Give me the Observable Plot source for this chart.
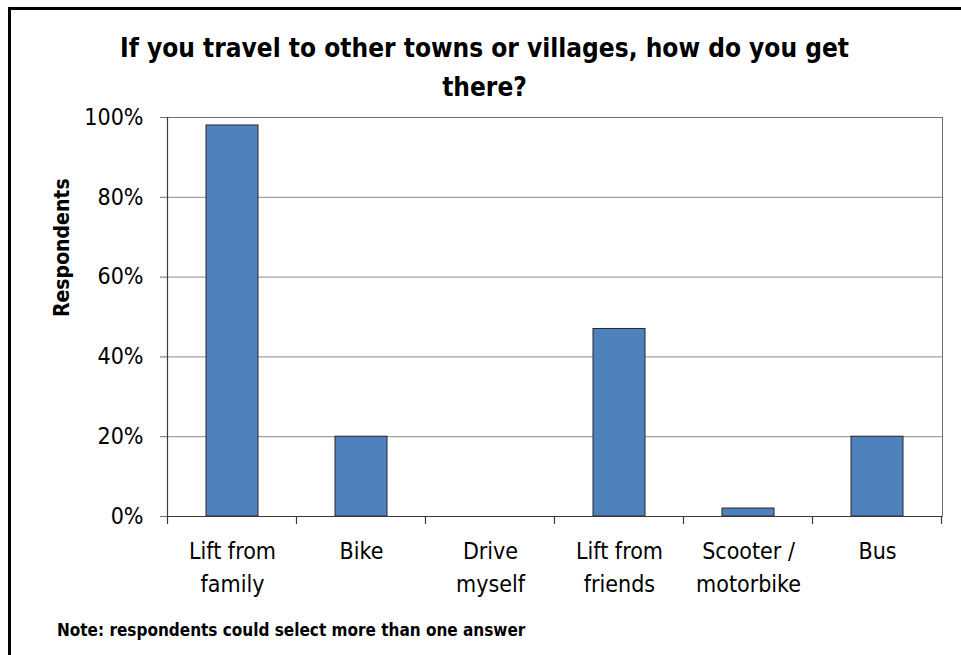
<!DOCTYPE html>
<html>
<head>
<meta charset="utf-8">
<script src="https://cdn.jsdelivr.net/npm/d3@7"></script>
<script src="https://cdn.jsdelivr.net/npm/@observablehq/plot@0.6"></script>
<style>
  html, body { margin: 0; padding: 0; background: #fff; }
  body { width: 961px; height: 655px; overflow: hidden; position: relative;
         font-family: "DejaVu Sans Condensed", "DejaVu Sans", sans-serif; font-stretch: condensed; color: #000; }
  #border { position: absolute; left: 8px; top: 7px; width: 960px; height: 700px;
            border-left: 3px solid #000; border-top: 3px solid #000; box-sizing: border-box; }
  #title { position: absolute; left: 8px; width: 953px; top: 29px; text-align: center;
           font-weight: bold; font-size: 26px; line-height: 39px; }
  #chart { position: absolute; left: 0; top: 100px; }
  #note { position: absolute; left: 57px; top: 620px; font-weight: bold; font-size: 17px; }
</style>
</head>
<body>
<div id="border"></div>
<div id="title">If you travel to other towns or villages, how do you get<br>there?</div>
<div id="chart"></div>
<div id="note">Note: respondents could select more than one answer</div>
<script>
const categories = ["Lift from\nfamily", "Bike", "Drive\nmyself", "Lift from\nfriends", "Scooter /\nmotorbike", "Bus"];
const values = [98, 20, 0, 47, 2, 20];
const yTicks = [0, 20, 40, 60, 80, 100];
const yLabel = "Respondents";

const data = categories.map((c, i) => ({category: c, value: values[i]}));

const W = 961, H = 515;
const font = '"DejaVu Sans Condensed", "DejaVu Sans", sans-serif';

const plot = Plot.plot({
  width: W, height: H,
  marginLeft: 167, marginRight: 19, marginTop: 17, marginBottom: 99,
  style: {fontFamily: font, fontSize: "23px", color: "#000", background: "transparent", fontStretch: "condensed"},
  x: {domain: categories, paddingInner: 0.6, paddingOuter: 0.3, label: null},
  y: {domain: [0, 100], label: null},
  marks: [
    Plot.gridY(yTicks.filter(d => d > 0 && d < 100), {stroke: "#8a8a8a", strokeOpacity: 1}),
    Plot.frame({stroke: "#6e6e6e"}),
    Plot.barY(data, {x: "category", y: "value", fill: "#4F81BD", stroke: "#262626", strokeWidth: 1}),
    Plot.ruleY([0], {stroke: "#3a3a3a", strokeWidth: 1.2}),
    Plot.axisY(yTicks, {tickSize: 7, tickPadding: 17, tickFormat: d => d + "%", stroke: "#6e6e6e", fontSize: 23}),
    Plot.axisX({tickSize: 0, tickPadding: 20, lineHeight: 1.4, fontSize: 23}),
    Plot.text([yLabel], {frameAnchor: "left", rotate: -90, dx: -105, fontWeight: "bold", fontSize: 21})
  ]
});

document.getElementById("chart").appendChild(plot);

// Category-boundary ticks and left axis line, positioned from the library's own scales
const xs = plot.scale("x");
const ys = plot.scale("y");
const y0 = ys.apply(0), y100 = ys.apply(100);
const bounds = categories.map(c => xs.apply(c) + xs.bandwidth / 2 - xs.step / 2);
bounds.push(xs.apply(categories[categories.length - 1]) + xs.bandwidth / 2 + xs.step / 2);
const svg = d3.select(plot);
svg.append("g").selectAll("line").data(bounds).join("line")
  .attr("x1", d => d).attr("x2", d => d)
  .attr("y1", y0).attr("y2", y0 + 8)
  .attr("stroke", "#3a3a3a").attr("stroke-width", 1.2);
svg.append("line")
  .attr("x1", bounds[0]).attr("x2", bounds[0])
  .attr("y1", y100).attr("y2", y0 + 0.5)
  .attr("stroke", "#3a3a3a").attr("stroke-width", 1.2);
</script>
</body>
</html>
